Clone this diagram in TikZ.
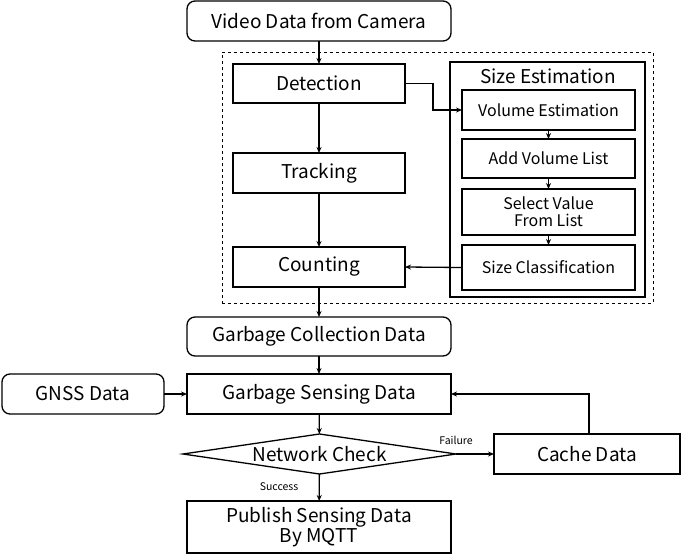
\documentclass[tikz,border=0pt]{standalone}
\usepackage{fontspec}
\setmainfont{Noto Sans CJK JP}
\usetikzlibrary{shapes.geometric,arrows.meta}
\begin{document}
\begin{tikzpicture}[x=1pt,y=-1pt,
  every node/.style={inner sep=0pt, outer sep=0pt},
  big/.style={font=\fontsize{19}{21}\selectfont},
  mid/.style={font=\fontsize{16}{18}\selectfont},
  sm/.style={font=\fontsize{10.5}{12}\selectfont},
  box/.style={draw, line width=1.3pt, big, align=center},
  rbox/.style={box, rounded corners=8pt},
  ibox/.style={draw, line width=1.3pt, mid, align=center, minimum width=173pt},
  conn/.style={line width=1.3pt, -{Stealth[length=6pt,width=5pt]}},
  line/.style={line width=1.3pt}]
\useasboundingbox (0,0) rectangle (685,554);

\node[rbox, minimum width=264pt, minimum height=40pt] (video) at (319,21) {Video Data from Camera};
\node[draw, dashed, line width=0.8pt, minimum width=431pt, minimum height=251pt] (grp) at (437.5,177.5) {};
\node[box, minimum width=172pt, minimum height=39pt] (det) at (319,83.5) {Detection};
\node[box, minimum width=172pt, minimum height=40pt] (trk) at (319,173) {Tracking};
\node[box, minimum width=172pt, minimum height=40pt] (cnt) at (319,267) {Counting};

\node[draw, line width=2pt, minimum width=195pt, minimum height=235pt] (sizebox) at (547.5,179.5) {};
\node[big] (sizetitle) at (548,76) {Size Estimation};
\node[ibox, minimum height=40pt] (vol) at (548.5,110) {Volume Estimation};
\node[ibox, minimum height=39pt] (add) at (548.5,158.5) {Add Volume List};
\node[ibox, minimum height=46pt, font=\fontsize{16}{17}\selectfont] (sel) at (548.5,212) {Select Value\\From List};
\node[ibox, minimum height=45pt] (cls) at (548.5,267.5) {Size Classification};

\node[rbox, minimum width=264pt, minimum height=39pt] (gcd) at (319,336.5) {Garbage Collection Data};
\node[box, minimum width=264pt, minimum height=40pt] (gsd) at (319,394) {Garbage Sensing Data};
\node[rbox, minimum width=162pt, minimum height=40pt] (gnss) at (83,394) {GNSS Data};
\node[draw, diamond, line width=1.3pt, big, aspect=6.8, minimum width=273pt, minimum height=40pt] (net) at (319.5,454) {Network Check};
\node[box, minimum width=186pt, minimum height=40pt] (cache) at (587,454) {Cache Data};
\node[box, minimum width=264pt, minimum height=52pt, font=\fontsize{19}{20}\selectfont] (pub) at (319,527) {Publish Sensing Data\\By MQTT};

\node[sm] (fail) at (456,440) {Failure};
\node[sm] (succ) at (279,487) {Success};

\draw[conn] (video) -- (det);
\draw[conn] (det) -- (trk);
\draw[conn] (trk) -- (cnt);
\draw[conn] (det.east) -| (433,110) -- (vol.west);
\draw[conn] (vol) -- (add);
\draw[conn] (add) -- (sel);
\draw[conn] (sel) -- (cls);
\draw[conn] (cls.west) -- (cnt.east);
\draw[conn] (cnt.south) -- (gcd.north);
\draw[conn] (gcd) -- (gsd);
\draw[conn] (gnss) -- (gsd);
\draw[conn] (gsd) -- (net);
\draw[conn] (net.east) -- (cache.west);
\draw[conn] (net) -- (pub);
\draw[conn] (cache.north -| 589,0) |- (gsd.east);
\end{tikzpicture}
\end{document}
